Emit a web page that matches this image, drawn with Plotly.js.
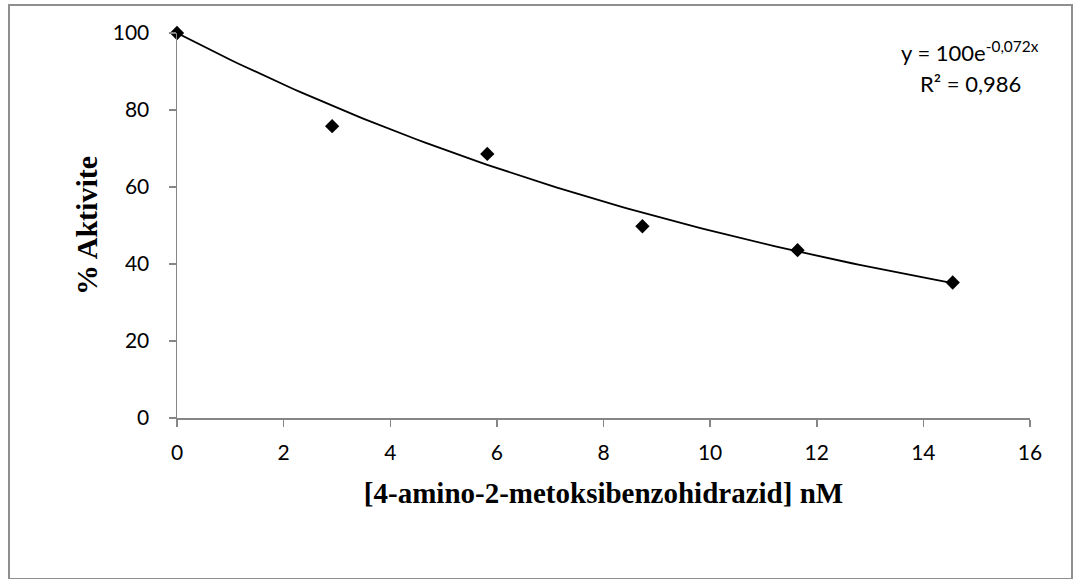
<!DOCTYPE html>
<html>
<head>
<meta charset="utf-8">
<script src="https://cdn.plot.ly/plotly-3.0.1.min.js"></script>
<style>
  html, body { margin: 0; padding: 0; background: #fff; }
  #wrap { position: relative; width: 1075px; height: 579px; }
  #chart { position: absolute; left: 0; top: 0; width: 1075px; height: 579px; }
  #frame { position: absolute; left: 8px; top: 4px; width: 1061px; height: 572px;
           border: 2px solid #8f8f8f; pointer-events: none; }
</style>
</head>
<body>
<div id="wrap">
  <div id="chart"></div>
  <div id="frame"></div>
</div>
<script>
// Measured data
const concentration = [0, 2.91, 5.82, 8.73, 11.64, 14.55];
const activity = [100, 75.8, 68.6, 49.8, 43.6, 35.2];

// Trendline coefficients shown on the chart: y = a * e^(b x)
const fitA = 100;
const fitB = -0.072;

const xTicks = [0, 2, 4, 6, 8, 10, 12, 14, 16];
const yTicks = [0, 20, 40, 60, 80, 100];

const xTitle = "[4-amino-2-metoksibenzohidrazid] nM";
const yTitle = "% Aktivite";
const eqText = "y = 100e<sup>-0,072x</sup>";
const r2Text = "R² = 0,986";

// trendline evaluated from the fit coefficients over the data range
const xMax = concentration[concentration.length - 1];
const trendX = [];
const trendY = [];
for (let i = 0; i <= 100; i++) {
  const x = xMax * i / 100;
  trendX.push(x);
  trendY.push(fitA * Math.exp(fitB * x));
}

const traces = [
  {
    x: trendX, y: trendY, type: 'scatter', mode: 'lines',
    line: { color: '#000', width: 1.8 }, hoverinfo: 'skip', showlegend: false
  },
  {
    x: concentration, y: activity, type: 'scatter', mode: 'markers',
    marker: { symbol: 'diamond', size: 11, color: '#000' }, showlegend: false, cliponaxis: false
  }
];

const sansFam = 'Lato, "Noto Sans", sans-serif';
const tickFont = { family: sansFam, size: 21, color: '#000' };
const titleFontX = { family: '"Liberation Serif", "Times New Roman", serif', size: 29, color: '#000', weight: 'bold' };
const titleFontY = { family: '"Liberation Serif", "Times New Roman", serif', size: 30, color: '#000', weight: 'bold' };

const layout = {
  width: 1075, height: 579,
  margin: { l: 177, r: 45, t: 33, b: 161 },
  paper_bgcolor: '#fff', plot_bgcolor: '#fff',
  xaxis: {
    range: [0, 16], tickvals: xTicks, ticktext: xTicks.map(String),
    showgrid: false, zeroline: false, showline: true, linecolor: '#868686', linewidth: 1.5,
    ticks: 'outside', ticklen: 7, tickcolor: '#868686', tickwidth: 1.5,
    tickfont: tickFont, ticklabelstandoff: 8,
    title: { text: '<b>' + xTitle + '</b>', font: titleFontX, standoff: 20 }
  },
  yaxis: {
    range: [0, 100], tickvals: yTicks, ticktext: yTicks.map(String),
    showgrid: false, zeroline: false, showline: true, linecolor: '#868686', linewidth: 1.5,
    ticks: 'outside', ticklen: 7, tickcolor: '#868686', tickwidth: 1.5,
    tickfont: tickFont, ticklabelstandoff: 15,
    title: { text: '<b>' + yTitle + '</b>', font: titleFontY, standoff: 6 }
  },
  annotations: [
    { xref: 'paper', yref: 'paper', x: 0.93, y: 0.952, xanchor: 'center', yanchor: 'middle',
      text: eqText, showarrow: false, font: { family: sansFam, size: 22, color: '#000' } },
    { xref: 'paper', yref: 'paper', x: 0.93, y: 0.87, xanchor: 'center', yanchor: 'middle',
      text: r2Text, showarrow: false, font: { family: sansFam, size: 22, color: '#000' } }
  ],
  showlegend: false
};

Plotly.newPlot('chart', traces, layout, { displayModeBar: false, staticPlot: true });
</script>
</body>
</html>
